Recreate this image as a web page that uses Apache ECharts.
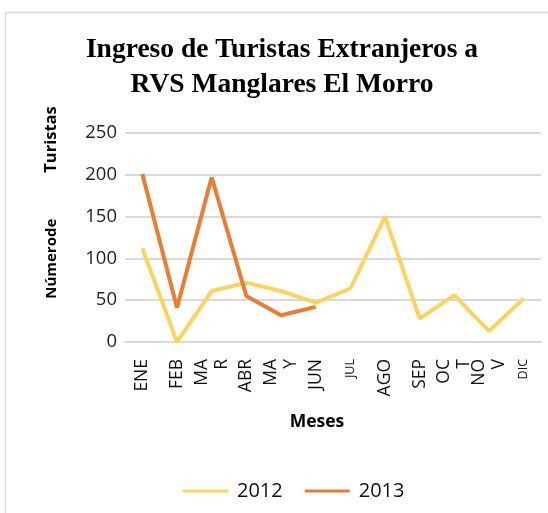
<!DOCTYPE html>
<html>
<head>
<meta charset="utf-8">
<script src="https://cdn.jsdelivr.net/npm/echarts@6/dist/echarts.min.js"></script>
<style>
  html, body { margin: 0; padding: 0; background: #fff; }
  #chart { width: 548px; height: 513px; }
</style>
</head>
<body>
<div id="chart"></div>
<script>
  // meses tal como aparecen en el eje (con los cortes de linea del original)
  var meses = ['ENE', 'FEB', 'MA\nR', 'ABR', 'MA\nY', 'JUN', 'JUL', 'AGO', 'SEP', 'OC\nT', 'NO\nV', 'DIC'];
  var smallLabels = ['JUL', 'DIC'];
  var turistas2012 = [112, 0, 61, 71, 61, 47, 64, 150, 28, 56, 13, 52];
  var turistas2013 = [201, 41, 197, 55, 32, 42, null, null, null, null, null, null];
  var yTicks = [0, 50, 100, 150, 200, 250];

  var chart = echarts.init(document.getElementById('chart'));

  var option = {
    backgroundColor: '#fff',
    animation: false,
    graphic: [
      {
        type: 'polyline',
        shape: { points: [[5.5, 513], [5.5, 12.5], [548, 12.5]] },
        style: { stroke: '#d9d9d9', lineWidth: 1.5, fill: null }
      }
    ],
    title: {
      text: 'Ingreso de Turistas Extranjeros a\nRVS Manglares El Morro',
      left: 282,
      top: 32,
      padding: 0,
      textAlign: 'center',
      textStyle: {
        fontFamily: 'Liberation Serif',
        fontWeight: 'bold',
        fontSize: 27.5,
        lineHeight: 35,
        color: '#000'
      }
    },
    legend: {
      bottom: 12,
      left: 183,
      padding: 0,
      icon: 'rect',
      itemWidth: 45,
      itemHeight: 3,
      itemGap: 22,
      textStyle: { fontFamily: 'Open Sans', fontSize: 20, color: '#111', padding: [0, 0, 0, 4] },
      data: ['2012', '2013']
    },
    grid: { left: 125, right: 7, top: 133, bottom: 171 },
    xAxis: {
      type: 'category',
      data: meses.map(function (m) {
        if (smallLabels.indexOf(m) >= 0) {
          return { value: m, textStyle: { fontSize: 12.5 } };
        }
        return m;
      }),
      boundaryGap: true,
      axisLine: { lineStyle: { color: '#d9d9d9', width: 2 } },
      axisTick: { show: false },
      axisLabel: {
        rotate: 90,
        margin: 17,
        interval: 0,
        fontFamily: 'Open Sans',
        fontSize: 17.5,
        lineHeight: 20,
        color: '#111'
      },
      name: 'Meses',
      nameLocation: 'middle',
      nameGap: 71,
      nameTextStyle: {
        fontFamily: 'Open Sans',
        fontWeight: 'bold',
        fontSize: 17.5,
        color: '#000',
        padding: [0, 32, 0, 0]
      }
    },
    yAxis: {
      type: 'value',
      min: yTicks[0],
      max: yTicks[yTicks.length - 1],
      interval: 50,
      axisLine: { show: false },
      axisTick: { show: false },
      splitLine: { lineStyle: { color: '#d9d9d9', width: 2 } },
      axisLabel: {
        margin: 8,
        fontFamily: 'Open Sans',
        fontSize: 18.5,
        color: '#222'
      },
      name: '{a|Númerode}{g|}{b|Turistas}',
      nameLocation: 'middle',
      nameRotate: 90,
      nameGap: 65,
      nameTextStyle: {
        padding: [0, 0, 0, 70],
        rich: {
          a: { fontFamily: 'Open Sans', fontWeight: 'bold', fontSize: 15, color: '#000' },
          g: { width: 46 },
          b: { fontFamily: 'Open Sans', fontWeight: 'bold', fontSize: 16.5, color: '#000' }
        }
      }
    },
    series: [
      {
        name: '2012',
        type: 'line',
        data: turistas2012,
        symbol: 'none',
        color: '#fad55e',
        lineStyle: { width: 4, color: '#fad55e' }
      },
      {
        name: '2013',
        type: 'line',
        data: turistas2013,
        symbol: 'none',
        color: '#ec7c31',
        lineStyle: { width: 4, color: '#ec7c31' }
      }
    ]
  };

  chart.setOption(option);
</script>
</body>
</html>
